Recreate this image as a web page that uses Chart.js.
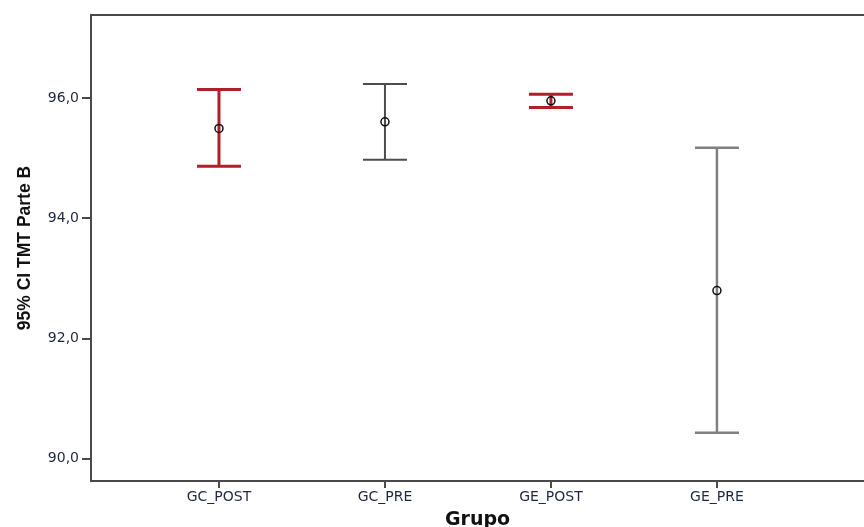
<!DOCTYPE html>
<html>
<head>
<meta charset="utf-8">
<script src="https://cdn.jsdelivr.net/npm/chart.js@4/dist/chart.umd.min.js"></script>
<style>
  html, body { margin: 0; padding: 0; background: #ffffff; }
  #wrap { width: 864px; height: 527px; }
</style>
</head>
<body>
<div id="wrap"><canvas id="c" width="864" height="527"></canvas></div>
<script>
// Groups and their 95% confidence intervals for TMT Parte B
const categories = ['GC_POST', 'GC_PRE', 'GE_POST', 'GE_PRE'];
const means = [95.50, 95.61, 95.96, 92.80];
const lower = [94.87, 94.98, 95.85, 90.43];
const upper = [96.15, 96.24, 96.07, 95.18];
const yTicks = [90, 92, 94, 96];

// Per-group bar colour and line width
const barColors = ['#b02028', '#4d4d4d', '#b02028', '#808080'];
const barWidths = [3, 2, 3, 2.5];

const AXIS_COLOR = '#4a4a4a';
const TICK_COLOR = '#1f2640';

// Draws the CI whiskers and caps for each group from the arrays above
const errorBars = {
  id: 'errorBars',
  beforeDatasetsDraw(chart) {
    const { ctx, scales: { x, y } } = chart;
    const capHalf = 22;
    ctx.save();
    categories.forEach((_, i) => {
      const px = x.getPixelForValue(i);
      const yTop = y.getPixelForValue(upper[i]);
      const yBot = y.getPixelForValue(lower[i]);
      ctx.strokeStyle = barColors[i];
      ctx.lineWidth = barWidths[i];
      ctx.beginPath();
      ctx.moveTo(px, yTop); ctx.lineTo(px, yBot);
      ctx.moveTo(px - capHalf, yTop); ctx.lineTo(px + capHalf, yTop);
      ctx.moveTo(px - capHalf, yBot); ctx.lineTo(px + capHalf, yBot);
      ctx.stroke();
    });
    ctx.restore();
  },
  afterDraw(chart) {
    // upper frame line of the plot area
    const { ctx, chartArea } = chart;
    ctx.save();
    ctx.strokeStyle = AXIS_COLOR;
    ctx.lineWidth = 2;
    ctx.beginPath();
    ctx.moveTo(chartArea.left, chartArea.top);
    ctx.lineTo(chartArea.right, chartArea.top);
    ctx.stroke();
    ctx.restore();
  }
};

new Chart(document.getElementById('c'), {
  type: 'scatter',
  data: {
    datasets: [{
      data: means.map((m, i) => ({ x: i, y: m })),
      pointStyle: 'circle',
      pointRadius: 4,
      pointHoverRadius: 4,
      pointBorderWidth: 1.5,
      pointBorderColor: '#111111',
      pointBackgroundColor: 'rgba(0,0,0,0)'
    }]
  },
  options: {
    responsive: false,
    animation: false,
    events: [],
    layout: { autoPadding: false, padding: { top: 15, right: 0, left: 0, bottom: 0 } },
    plugins: { legend: { display: false }, tooltip: { enabled: false } },
    scales: {
      x: {
        type: 'linear',
        min: -0.771,
        max: 3.886,
        afterBuildTicks(scale) { scale.ticks = categories.map((_, i) => ({ value: i })); },
        afterFit(scale) { scale.height = 46; scale.paddingRight = 0; scale.paddingLeft = 0; },
        border: { display: true, color: AXIS_COLOR, width: 2 },
        grid: { display: true, drawOnChartArea: false, drawTicks: true, tickLength: 7, color: AXIS_COLOR, lineWidth: 2 },
        ticks: {
          autoSkip: false,
          maxRotation: 0,
          padding: 1,
          color: TICK_COLOR,
          font: { family: 'DejaVu Sans', size: 14 },
          callback: (v) => categories[v]
        },
        title: {
          display: true,
          text: 'Grupo',
          color: '#111111',
          font: { family: 'DejaVu Sans', size: 19, weight: 'bold', lineHeight: 0.7 },
          padding: { top: 0, bottom: 0 }
        }
      },
      y: {
        min: 89.627,
        max: 97.39,
        afterBuildTicks(scale) { scale.ticks = yTicks.map(v => ({ value: v })); },
        afterFit(scale) { scale.width = 91; },
        border: { display: true, color: AXIS_COLOR, width: 2 },
        grid: { display: true, drawOnChartArea: false, drawTicks: true, tickLength: 9, color: AXIS_COLOR, lineWidth: 2 },
        ticks: {
          padding: 3,
          color: TICK_COLOR,
          font: { family: 'DejaVu Sans', size: 14 },
          callback: (v) => v.toFixed(1).replace('.', ',')
        },
        title: {
          display: true,
          text: '95% CI TMT Parte B',
          color: '#111111',
          font: { family: '"Liberation Sans", sans-serif', size: 17.5, weight: 'bold', lineHeight: 1 },
          padding: { top: 16, bottom: 0 }
        }
      }
    }
  },
  plugins: [errorBars]
});
</script>
</body>
</html>
